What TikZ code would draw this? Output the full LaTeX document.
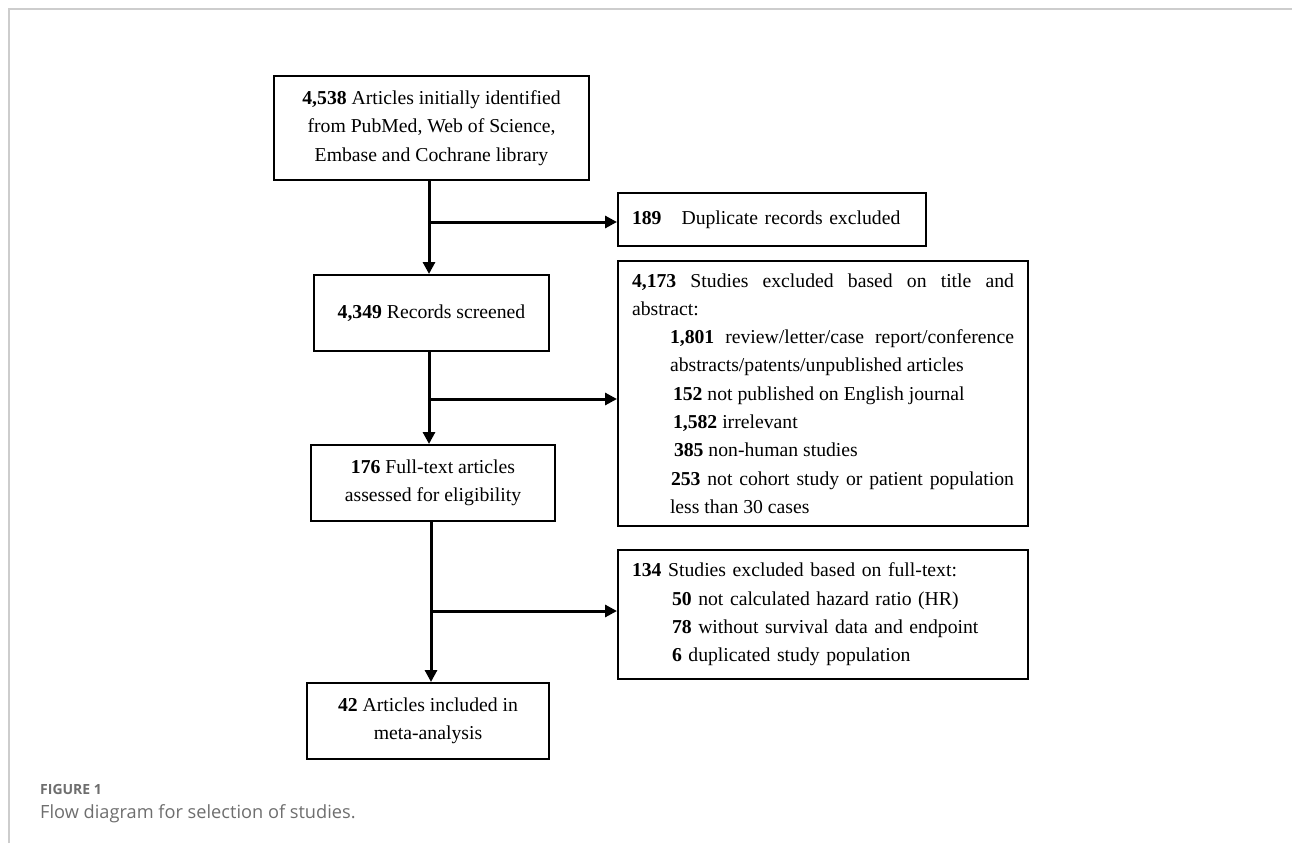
\documentclass[tikz,border=0pt]{standalone}
\usepackage{fontspec}
\setmainfont{Liberation Serif}
\newfontfamily\capfont{Open Sans}
\usetikzlibrary{arrows.meta}
\definecolor{framegray}{RGB}{205,205,205}
\definecolor{capgray}{RGB}{110,110,110}

\begin{document}
\begin{tikzpicture}[x=1pt,y=-1pt,
  box/.style={draw,line width=2pt,inner xsep=14pt,inner ysep=0pt,font=\fontsize{19.7}{28.3}\selectfont},
  arr/.style={line width=3pt,-{Triangle[length=12pt,width=12pt]}}]
\useasboundingbox (0,0) rectangle (1292,843);
\draw[framegray,line width=2pt] (9,843) -- (9,9) -- (1292,9);

% main column
\node[box,minimum width=315pt,minimum height=104pt,align=center] (ident) at (431.5,128)
  {\textbf{4,538} Articles initially identified\\from PubMed, Web of Science,\\Embase and Cochrane library};
\node[box,minimum width=235pt,minimum height=76pt,align=center] (screen) at (431.5,313)
  {\textbf{4,349} Records screened};
\node[box,minimum width=244pt,minimum height=76pt,align=center] (full) at (433,483)
  {\textbf{176} Full-text articles\\assessed for eligibility};
\node[box,minimum width=242pt,minimum height=76pt,align=center] (incl) at (428,721)
  {\textbf{42} Articles included in\\meta-analysis};

% exclusions
\node[box,text width=280pt,minimum height=53pt,align=left] (dup) at (772,219.5)
  {\textbf{189}\hspace{20pt}Duplicate records excluded};
\node[box,text width=382pt,minimum height=265pt,align=justify] (title) at (823,393.5)
  {\parindent=0pt
   \textbf{4,173} Studies excluded based on title and\linebreak abstract:\par
   \leftskip=38pt
   \textbf{1,801} review/letter/case report/conference\linebreak abstracts/patents/unpublished articles\par
   \hspace*{3pt}\textbf{152} not published on English journal\par
   \hspace*{3pt}\textbf{1,582} irrelevant\par
   \hspace*{4pt}\textbf{385} non-human studies\par
   \hspace*{1pt}\textbf{253} not cohort study or patient population\linebreak less than 30 cases\par};
\node[box,text width=382pt,minimum height=129pt,align=left] (text) at (823,614.5)
  {\textbf{134} Studies excluded based on full-text:\\
   \hspace*{40pt}\textbf{50} not calculated hazard ratio (HR)\\
   \hspace*{40pt}\textbf{78} without survival data and endpoint\\
   \hspace*{40pt}\textbf{6} duplicated study population};

% connectors
\coordinate (b1) at (429,222);
\coordinate (b2) at (429,399);
\coordinate (b3) at (431,611);
\draw[arr] (ident.south -| b1) -- (screen.north -| b1);
\draw[arr] (b1) -- (b1 -| dup.west);
\draw[arr] (screen.south -| b2) -- (full.north -| b2);
\draw[arr] (b2) -- (b2 -| title.west);
\draw[arr] (full.south -| b3) -- (incl.north -| b3);
\draw[arr] (b3) -- (b3 -| text.west);

% caption
\node[anchor=base west,inner sep=0pt,text=capgray,font=\capfont\bfseries\fontsize{14}{16}\selectfont] (fig) at (40,794) {FIGURE 1};
\node[anchor=base west,inner sep=0pt,text=capgray,font=\capfont\fontsize{18.2}{21}\selectfont] (cap) at (40,818) {Flow diagram for selection of studies.};
\end{tikzpicture}
\end{document}
